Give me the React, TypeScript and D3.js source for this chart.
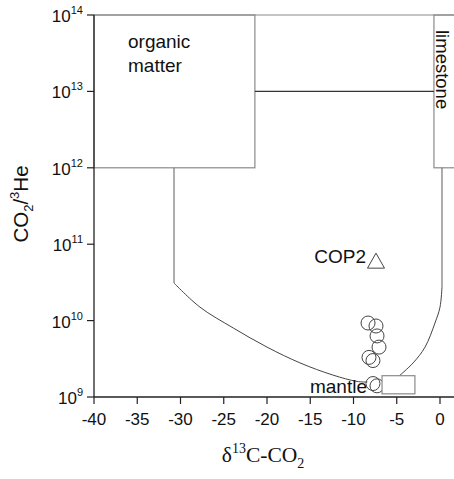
import React from "react";
import * as d3 from "d3";

// ---- data ----
const xTicks = [-40, -35, -30, -25, -20, -15, -10, -5, 0];
const yTickExps = [9, 10, 11, 12, 13, 14];

// end-member boxes [xMin, xMax, yMin, yMax]
const organicBox = [-40, -21.4, 1e12, 1e14];
const limestoneBox = [-0.7, 3, 1e12, 1e14];
const mantleBox = [-6.7, -2.9, 1.1e9, 1.9e9];
const divider13 = [-21.4, -0.7, 1e13];

// mixing curves (data coords)
const organicVertical: [number, number][] = [[-30.75, 1e12], [-30.75, 3.1e10]];
const organicCurve: [number, number][] = [
  [-30.75, 3.1e10], [-27.75, 1.5e10], [-23.9, 8e9], [-20.0, 4.5e9],
  [-16.2, 2.8e9], [-12.4, 1.94e9], [-9.6, 1.6e9], [-8.4, 1.57e9],
];
const limestoneVertical: [number, number][] = [[0.23, 1e12], [0.23, 2.75e10]];
const limestoneCurve: [number, number][] = [
  [0.23, 2.75e10], [0.0, 1.5e10], [-0.58, 9.3e9], [-1.73, 4.5e9],
  [-3.1, 2.8e9], [-4.86, 1.83e9],
];

// samples (circles)
const sampleX = [-8.32, -7.4, -7.28, -7.05, -8.21, -7.75, -7.75, -7.28];
const sampleY = [9.3e9, 8.5e9, 6.3e9, 4.5e9, 3.3e9, 3.0e9, 1.5e9, 1.4e9];

// COP2 (triangle)
const cop2 = { name: "COP2", x: -7.4, y: 6.0e10 };

const W = 454;
const H = 479;

export default function App() {
  const x = d3.scaleLinear().domain([-40, 2]).range([94, 457.3]);
  const y = d3.scaleLog().domain([1e9, 1e14]).range([397, 15]);

  const straight = d3.line<[number, number]>().x((d) => x(d[0])).y((d) => y(d[1]));
  const smooth = d3
    .line<[number, number]>()
    .x((d) => x(d[0]))
    .y((d) => y(d[1]))
    .curve(d3.curveCatmullRom.alpha(0.5));

  const sans = "'Liberation Sans', Arial, sans-serif";
  const serif = "'Liberation Serif', 'Times New Roman', serif";
  const boxColor = "#8a8a8a";

  const rect = (b: number[], fill: string) => (
    <rect
      x={x(b[0])}
      y={y(b[3])}
      width={x(b[1]) - x(b[0])}
      height={y(b[2]) - y(b[3])}
      fill={fill}
      stroke={boxColor}
      strokeWidth={1.2}
    />
  );

  const tx = x(cop2.x);
  const ty = y(cop2.y);

  return (
    <>
      <style>{`body{margin:0;}`}</style>
      <svg width={W} height={H} style={{ display: "block", background: "#fff" }}>
        {/* top frame line */}
        <line x1={x(-40)} x2={W} y1={y(1e14)} y2={y(1e14)} stroke={boxColor} strokeWidth={1.2} />

        {/* end-member boxes */}
        {rect(organicBox, "none")}
        {rect(limestoneBox, "none")}
        <line
          x1={x(divider13[0])}
          x2={x(divider13[1])}
          y1={y(divider13[2])}
          y2={y(divider13[2])}
          stroke="#333"
          strokeWidth={1.2}
        />

        {/* mixing curves */}
        <path d={straight(organicVertical) || ""} fill="none" stroke="#777" strokeWidth={1.2} />
        <path d={smooth(organicCurve) || ""} fill="none" stroke="#444" strokeWidth={1} />
        <path d={straight(limestoneVertical) || ""} fill="none" stroke="#777" strokeWidth={1.2} />
        <path d={smooth(limestoneCurve) || ""} fill="none" stroke="#444" strokeWidth={1} />

        {/* samples */}
        {sampleX.map((sx, i) => (
          <circle key={i} cx={x(sx)} cy={y(sampleY[i])} r={7} fill="none" stroke="#444" strokeWidth={1} />
        ))}

        {/* mantle box */}
        {rect(mantleBox, "#fff")}

        {/* COP2 triangle */}
        <path
          d={`M${tx},${ty - 8} L${tx + 8.5},${ty + 7} L${tx - 8.5},${ty + 7} Z`}
          fill="none"
          stroke="#444"
          strokeWidth={1}
        />

        {/* axes */}
        <line x1={x(-40)} x2={W} y1={y(1e9)} y2={y(1e9)} stroke="#222" strokeWidth={1.3} />
        <line x1={x(-40)} x2={x(-40)} y1={y(1e9)} y2={y(1e14)} stroke="#222" strokeWidth={1.3} />
        {xTicks.map((t) => (
          <g key={t}>
            <line x1={x(t)} x2={x(t)} y1={y(1e9)} y2={y(1e9) + 7} stroke="#222" strokeWidth={1.2} />
            <text x={x(t)} y={425} textAnchor="middle" fontFamily={sans} fontSize={17} fill="#111">
              {t}
            </text>
          </g>
        ))}
        {yTickExps.map((e) => (
          <g key={e}>
            <line
              x1={x(-40) - 7}
              x2={x(-40)}
              y1={y(Math.pow(10, e))}
              y2={y(Math.pow(10, e))}
              stroke="#222"
              strokeWidth={1.2}
            />
            <text
              x={83}
              y={y(Math.pow(10, e)) + 7}
              textAnchor="end"
              fontFamily={sans}
              fontSize={17}
              fill="#111"
            >
              10
              <tspan fontSize={11} dy={-8}>
                {e}
              </tspan>
            </text>
          </g>
        ))}

        {/* annotations */}
        <text x={128} y={48} fontFamily={sans} fontSize={19} fill="#111">
          organic
        </text>
        <text x={128} y={72} fontFamily={sans} fontSize={19} fill="#111">
          matter
        </text>
        <text
          transform={`translate(436,30) rotate(90)`}
          fontFamily={sans}
          fontSize={18.5}
          fill="#111"
        >
          limestone
        </text>
        <text x={tx - 10} y={ty + 2} textAnchor="end" fontFamily={sans} fontSize={19} fill="#111">
          {cop2.name}
        </text>
        <text x={367} y={393} textAnchor="end" fontFamily={sans} fontSize={19} fill="#111">
          mantle
        </text>

        {/* axis titles */}
        <text
          transform={`translate(28,204) rotate(-90)`}
          textAnchor="middle"
          fontFamily={sans}
          fontSize={20.5}
          fill="#111"
        >
          CO
          <tspan fontSize={13} dy={5}>2</tspan>
          <tspan dy={-5}>/</tspan>
          <tspan fontSize={13} dy={-9}>3</tspan>
          <tspan dy={9}>He</tspan>
        </text>
        <text x={263} y={462} textAnchor="middle" fontFamily={serif} fontSize={21.5} fill="#111">
          δ
          <tspan fontSize={14} dy={-9}>13</tspan>
          <tspan dy={9}>C-CO</tspan>
          <tspan fontSize={14} dy={6}>2</tspan>
        </text>
      </svg>
    </>
  );
}
